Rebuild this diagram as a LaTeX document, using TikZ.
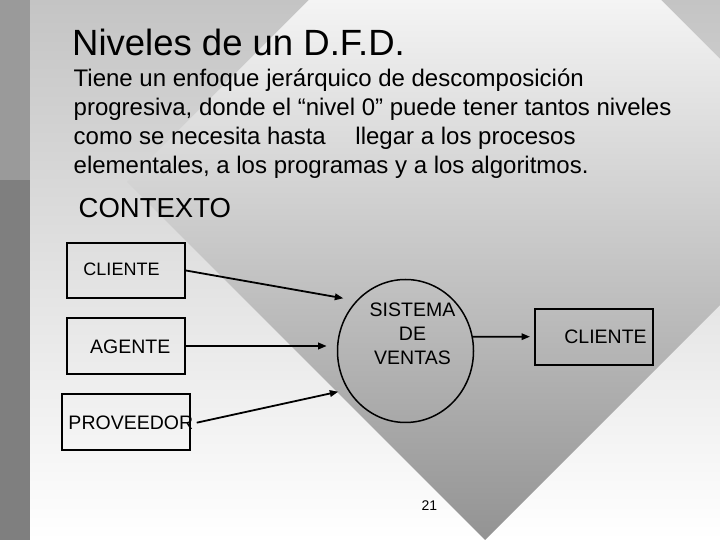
\documentclass[tikz,border=0pt]{standalone}
\usepackage{fontspec}
\setmainfont{Liberation Sans}
\usetikzlibrary{arrows.meta,shapes.geometric}
\definecolor{bgtop}{HTML}{C4C4C4}
\definecolor{dmtop}{HTML}{F4F4F4}
\definecolor{dmbot}{HTML}{939393}
\definecolor{bartop}{HTML}{9A9A9A}
\definecolor{barbot}{HTML}{7F7F7F}
\begin{document}
\begin{tikzpicture}[x=1pt,y=1pt,
  box/.style={draw=black, line width=1.8pt, minimum height=56pt, inner sep=0pt},
  lbl/.style={inner sep=0pt, text=black},
  bodytxt/.style={anchor=base west, inner sep=0pt, font=\fontsize{24}{29}\selectfont},
  arr/.style={draw=black, line width=1.8pt, -{Triangle[length=8.5pt,width=6.5pt]}}]
\useasboundingbox (0,0) rectangle (720,540);
% background
\shade[top color=bgtop, bottom color=white] (30,0) rectangle (720,540);
\begin{scope}
  \clip (485,716) -- (843,358) -- (485,0) -- (127,358) -- cycle;
  \shade[top color=dmtop, bottom color=dmbot] (30,0) rectangle (720,540);
\end{scope}
\fill[bartop] (0,360) rectangle (30,540);
\fill[barbot] (0,0) rectangle (30,360);
% texts
\node[anchor=base west, inner sep=0pt, font=\fontsize{36.5}{40}\selectfont] (title) at (72,484) {Niveles de un D.F.D.};
\node[bodytxt] (l1) at (73.5,453) {Tiene un enfoque jerárquico de descomposición};
\node[bodytxt] (l2) at (73.5,424) {progresiva, donde el “nivel 0” puede tener tantos niveles};
\node[bodytxt] (l3) at (73.5,395) {como se necesita hasta\hspace{23pt} llegar a los procesos};
\node[bodytxt] (l4) at (73.5,366) {elementales, a los programas y a los algoritmos.};
\node[anchor=base west, inner sep=0pt, font=\fontsize{27.5}{32}\selectfont] (ctx) at (78.5,322) {CONTEXTO};
% boxes
\node[box, minimum width=118pt, minimum height=55pt] (cli1) at (126,269.5) {};
\node[box, minimum width=118pt] (age) at (126,194) {};
\node[box, minimum width=128pt] (pro) at (126,118) {};
\node[box, minimum width=118pt] (cli2) at (594,203) {};
\node[ellipse, draw=black, line width=1.5pt, minimum width=136pt, minimum height=143pt, inner sep=0pt] (sys) at (405.5,189) {};
% labels
\node[lbl, font=\fontsize{18}{22}\selectfont] (cli1t) at ([shift={(-4.5,1.2)}]cli1.center) {CLIENTE};
\node[lbl, font=\fontsize{19.5}{24}\selectfont] (aget) at ([shift={(4.3,-0.7)}]age.center) {AGENTE};
\node[lbl, font=\fontsize{19.5}{24}\selectfont] (prot) at ([shift={(4.8,-1)}]pro.center) {PROVEEDOR};
\node[lbl, font=\fontsize{19.5}{24}\selectfont] (cli2t) at ([shift={(11.5,0.7)}]cli2.center) {CLIENTE};
\node[lbl, align=center, font=\fontsize{19.5}{24}\selectfont] (syst) at (412.5,206.3) {SISTEMA\\DE\\VENTAS};
\node[lbl, font=\fontsize{14}{16}\selectfont] (pg) at (429.4,34.6) {21};
% connectors
\coordinate (t1) at (343.3,241.7);
\coordinate (t2) at (326.7,194);
\coordinate (s3) at (196.7,117.3);
\coordinate (t3) at (338.3,148.3);
\coordinate (t4) at (530,203.3);
\draw[arr] (cli1.east) -- (t1);
\draw[arr] (age.east) -- (t2);
\draw[arr] (s3) -- (t3);
\draw[arr] (sys.12) -- (t4);
\end{tikzpicture}
\end{document}
